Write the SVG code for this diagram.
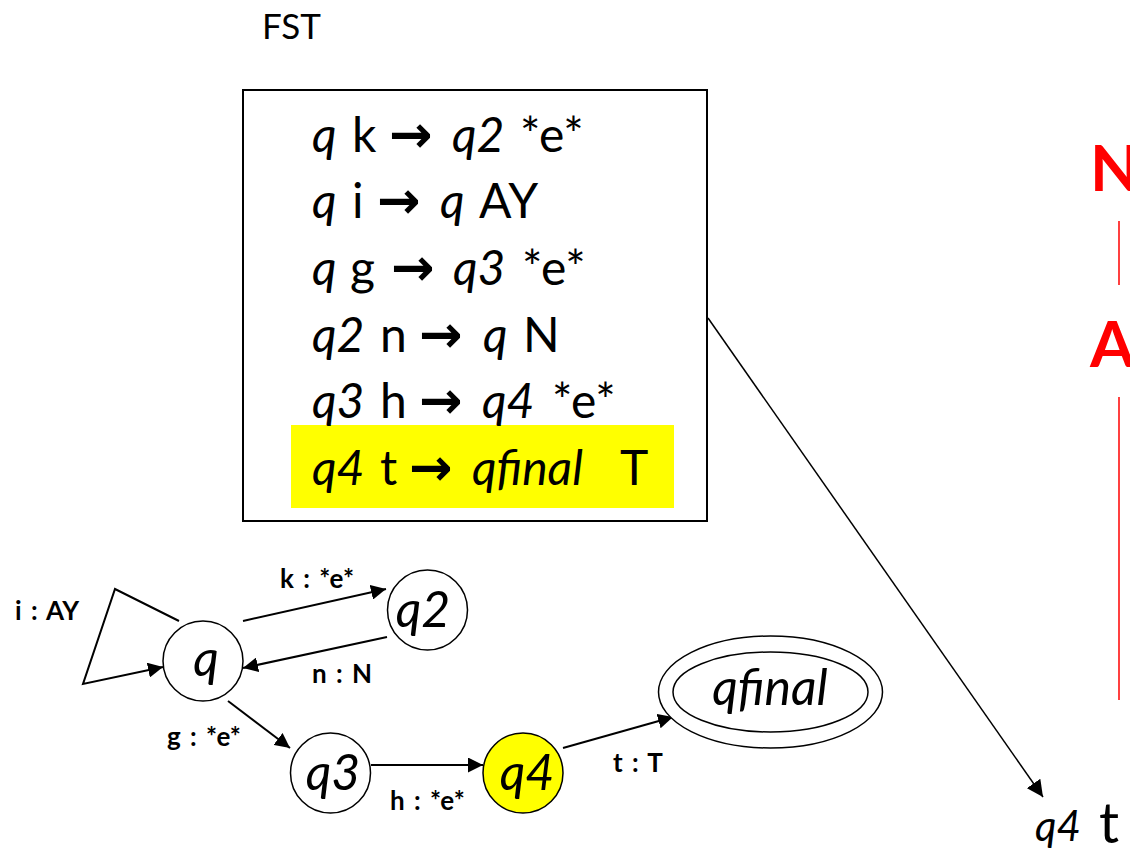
<svg xmlns="http://www.w3.org/2000/svg" width="1130" height="851" viewBox="0 0 1130 851">
<defs>
<marker id="ah" viewBox="0 0 10 10" refX="10" refY="5" markerWidth="7.5" markerHeight="7.5" markerUnits="strokeWidth" orient="auto">
<path d="M0,0 L10,5 L0,10 z" fill="#000"/>
</marker>
<marker id="ah2" viewBox="0 0 10 10" refX="10" refY="5" markerWidth="11" markerHeight="11" markerUnits="strokeWidth" orient="auto">
<path d="M0,0 L10,5 L0,10 z" fill="#000"/>
</marker>
</defs>
<style>
.t{font-family:Lato,"Liberation Sans",sans-serif;fill:#000}
.rule{font-size:48px}
.i{font-style:italic}
.arr{font-family:"DejaVu Sans",sans-serif;font-weight:bold;font-size:52px}
.lbl{font-family:Lato,"Liberation Sans",sans-serif;font-weight:bold;font-size:26px;word-spacing:3px;fill:#000}
.node{fill:#fff;stroke:#000;stroke-width:1.5}
.nl{font-family:Lato,"Liberation Sans",sans-serif;font-style:italic;font-size:50px;fill:#000;text-anchor:middle}
.e{fill:none;stroke:#000;stroke-width:2;marker-end:url(#ah)}
.red{font-family:Lato,"Liberation Sans",sans-serif;font-weight:bold;font-size:64px;fill:#ff0000}
</style>
<rect width="1130" height="851" fill="#fff"/>

<text class="t" x="262" y="39" font-size="35">FST</text>

<g id="fst-box">
<rect x="243" y="90" width="464" height="431" fill="#fff" stroke="#000" stroke-width="2"/>
<rect x="291" y="425" width="383" height="83" fill="#ffff00"/>
<text class="t rule" y="152"><tspan class="i" x="312">q</tspan><tspan x="352">k</tspan><tspan class="arr" x="389">→</tspan><tspan class="i" x="452">q2</tspan><tspan x="520">*e*</tspan></text>
<text class="t rule" y="218"><tspan class="i" x="312">q</tspan><tspan x="352">i</tspan><tspan class="arr" x="377">→</tspan><tspan class="i" x="440">q</tspan><tspan x="479">AY</tspan></text>
<text class="t rule" y="285"><tspan class="i" x="312">q</tspan><tspan x="350">g</tspan><tspan class="arr" x="391">→</tspan><tspan class="i" x="453">q3</tspan><tspan x="522">*e*</tspan></text>
<text class="t rule" y="352"><tspan class="i" x="312">q2</tspan><tspan x="380">n</tspan><tspan class="arr" x="419">→</tspan><tspan class="i" x="483">q</tspan><tspan x="523">N</tspan></text>
<text class="t rule" y="418"><tspan class="i" x="312">q3</tspan><tspan x="380">h</tspan><tspan class="arr" x="419">→</tspan><tspan class="i" x="482">q4</tspan><tspan x="552">*e*</tspan></text>
<text class="t rule" y="485"><tspan class="i" x="312">q4</tspan><tspan x="380">t</tspan><tspan class="arr" x="409">→</tspan><tspan class="i" x="472">qfinal</tspan><tspan x="620">T</tspan></text>
</g>

<g id="connectors">
<polyline class="e" points="179,621 115,589 83,684 163,667"/>
<line class="e" x1="243" y1="621" x2="386" y2="589"/>
<line class="e" x1="387" y1="637" x2="243" y2="668"/>
<line class="e" x1="228" y1="701" x2="290" y2="748"/>
<line class="e" x1="371" y1="765" x2="483" y2="765"/>
<line class="e" x1="563" y1="748" x2="673" y2="717"/>
<line x1="708" y1="318" x2="1043" y2="797" stroke="#000" stroke-width="1.5" marker-end="url(#ah2)"/>
<text class="lbl" x="15" y="620">i : AY</text>
<text class="lbl" x="280" y="588">k : *e*</text>
<text class="lbl" x="312" y="683">n : N</text>
<text class="lbl" x="167" y="746">g : *e*</text>
<text class="lbl" x="390" y="810">h : *e*</text>
<text class="lbl" x="613" y="772">t : T</text>
</g>

<g id="node-q">
<circle class="node" cx="203" cy="661" r="40"/>
<text class="nl" x="206" y="676">q</text>
</g>
<g id="node-q2">
<circle class="node" cx="427.5" cy="610" r="40"/>
<text class="nl" x="423" y="627">q2</text>
</g>
<g id="node-q3">
<circle class="node" cx="330.5" cy="773" r="40"/>
<text class="nl" x="333" y="790">q3</text>
</g>
<g id="node-q4">
<circle cx="523" cy="773" r="40" fill="#ffff00" stroke="#000" stroke-width="1.5"/>
<text class="nl" x="527" y="790">q4</text>
</g>
<g id="node-qfinal">
<ellipse cx="770.5" cy="692" rx="112" ry="56" fill="#fff" stroke="#000" stroke-width="1.5"/>
<ellipse cx="770.5" cy="692" rx="97.5" ry="40" fill="none" stroke="#000" stroke-width="1.5"/>
<text class="nl" x="770" y="705" font-size="47">qfinal</text>
</g>

<g id="output-tape">
<text class="red" x="1090" y="191">N</text>
<line x1="1119" y1="221" x2="1119" y2="285" stroke="#ff0000" stroke-width="1.5"/>
<text class="red" x="1090" y="367">A</text>
<line x1="1119" y1="397" x2="1119" y2="700" stroke="#ff0000" stroke-width="1.5"/>
<text class="t i" x="1035" y="841" font-size="42">q4</text>
<text class="t" x="1099" y="843" font-size="56">t</text>
</g>
</svg>
